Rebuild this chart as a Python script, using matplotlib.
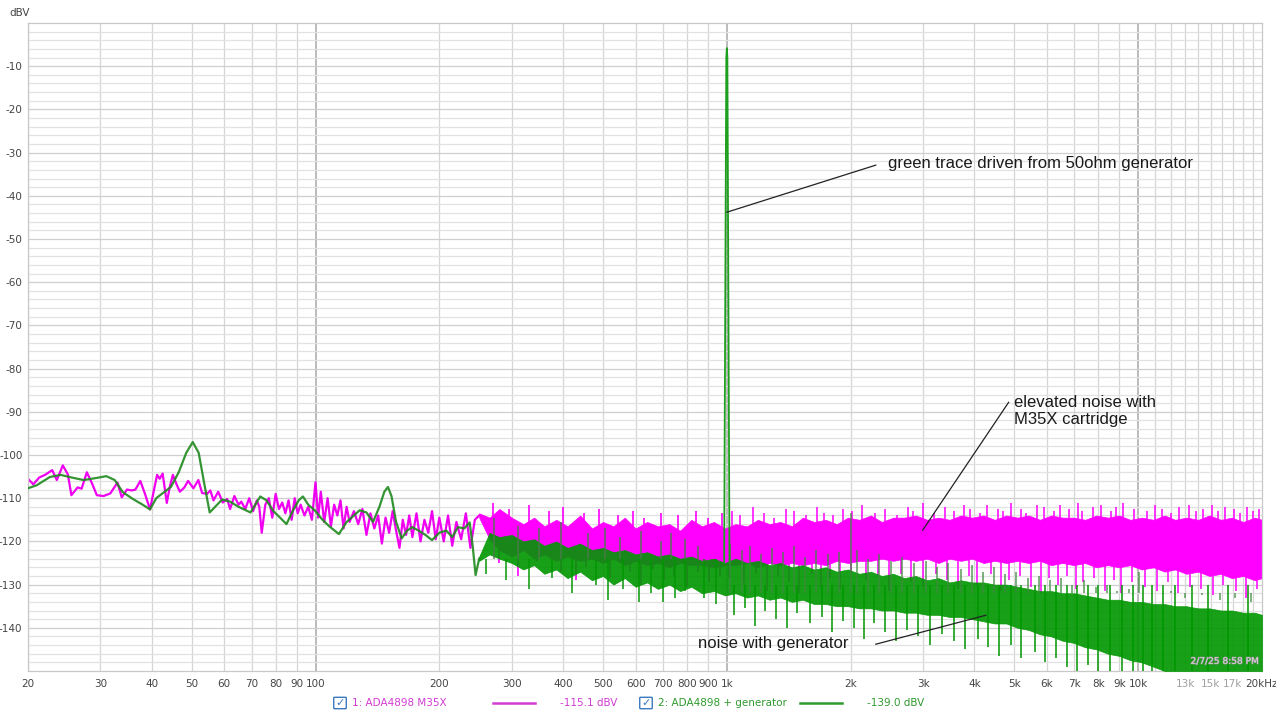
import matplotlib
matplotlib.use("Agg")
import matplotlib.pyplot as plt
import matplotlib.patheffects as pe
from matplotlib.lines import Line2D
from matplotlib.patches import FancyBboxPatch

plt.rcParams["axes.unicode_minus"] = False

# ---- low frequency part of trace 1 (magenta, ADA4898 M35X) ----
mag_lo_f = [20, 20.6, 21.3, 22.0, 22.9, 23.5, 24.3, 25.0, 25.5, 26.4, 27.0, 27.8, 28.6, 29.4,
            30.5, 31.7, 33.0, 33.8, 34.8, 35.7, 36.5, 37.5, 38.5, 39.6, 40.4, 41.2, 41.8, 42.5,
            43.5, 44.2, 45.0, 45.8, 46.8, 48.0, 49.0, 50.5, 51.9, 53.0, 54.5, 55.5, 56.5, 58.0,
            59.5, 61, 62, 63.5, 65, 66, 67.5, 69, 70.5, 72, 73, 74, 75.5, 77, 78.5, 80, 81.5,
            83, 84.5, 86, 87.5, 89, 90.5, 92, 94, 96, 98, 100, 101.5, 103, 105, 107, 109, 111,
            113, 115, 117, 119, 121, 124, 127, 130, 133, 136, 139, 142, 145, 148, 151, 154,
            157, 160, 163, 166, 169, 172, 176, 180, 184, 188, 192, 196, 200, 205, 210, 215,
            220, 226, 232, 238, 244, 250]
mag_lo_db = [-105.5, -106.8, -105.2, -104.6, -103.5, -105.8, -102.4, -104.5, -109.3, -107.5,
             -107.8, -104.0, -106.5, -109.3, -109.5, -108.9, -106.4, -109.8, -108.0, -108.2,
             -108.0, -106.0, -109.0, -112.6, -108.5, -104.6, -105.5, -104.3, -111.1, -107.5,
             -104.6, -106.5, -108.5, -107.5, -106.0, -107.7, -105.8, -108.8, -109.0, -108.2,
             -110.5, -108.5, -111.0, -110.2, -112.5, -109.5, -111.5, -110.8, -112.5, -110.0,
             -113.0, -110.5, -112.0, -118.0, -111.5, -110.0, -114.5, -109.0, -112.5, -111.0,
             -113.5, -110.5, -115.0, -110.0, -113.5, -111.5, -114.0, -112.0, -115.0, -106.3,
             -114.5, -108.5, -115.5, -110.0, -116.5, -111.5, -114.0, -110.5, -117.0, -112.0,
             -115.5, -113.0, -116.0, -112.5, -118.5, -113.5, -117.0, -114.0, -120.5, -114.5,
             -118.0, -113.0, -117.5, -121.5, -115.0, -118.5, -114.0, -119.0, -113.5, -120.0,
             -115.0, -118.0, -113.0, -119.5, -114.5, -120.0, -114.0, -121.0, -115.5, -119.5,
             -113.5, -121.5, -115.0, -114.0]

# ---- low frequency part of trace 2 (green, ADA4898 + generator) ----
grn_lo_f = [20, 21, 22.6, 24, 25.5, 27.3, 29, 31, 32.5, 34, 36, 38, 39.6, 41, 41.9, 44.5,
            46.5, 48.5, 50.3, 52, 53.5, 55.3, 57, 59.3, 62, 65, 69.5, 73.4, 76, 79, 82, 85,
            88, 91, 93.2, 96, 100, 104, 108, 114, 119, 124, 128, 133, 138, 143, 147, 150,
            153, 157, 162, 167, 172, 178, 185, 192, 200, 208, 215, 222, 230, 237, 241, 245, 250]
grn_lo_db = [-107.7, -107.0, -105.1, -104.6, -105.2, -105.8, -105.4, -104.9, -105.8, -108.6,
             -110.2, -111.5, -112.6, -110.0, -109.3, -107.4, -104.0, -99.5, -97.0, -99.5,
             -106.0, -113.3, -112.0, -110.3, -110.8, -112.0, -113.3, -109.6, -110.5, -113.0,
             -114.5, -116.0, -113.0, -110.5, -109.6, -111.5, -113.0, -115.0, -116.5, -118.3,
             -115.5, -114.0, -112.8, -113.3, -115.5, -112.0, -108.5, -107.4, -109.5, -115.5,
             -119.3, -117.5, -116.7, -117.5, -118.5, -119.7, -118.0, -117.5, -119.0, -116.7,
             -117.0, -115.6, -121.0, -127.8, -124.0]

# ---- dense noise region: envelopes (Hz, dBV) ----
band_f = [250, 265, 280, 300, 320, 340, 360, 385, 410, 440, 470, 500, 530, 565, 600, 640,
          680, 725, 770, 820, 870, 930, 990, 1050, 1120, 1190, 1270, 1350, 1440, 1530, 1630,
          1740, 1850, 1970, 2100, 2240, 2380, 2540, 2700, 2880, 3070, 3270, 3480, 3710, 3950,
          4210, 4480, 4780, 5090, 5420, 5770, 6150, 6550, 6980, 7430, 7920, 8440, 8990, 9570,
          10200, 10900, 11600, 12300, 13100, 14000, 14900, 15900, 16900, 18000, 19200, 20000]
mag_top = [-113.5, -114.5, -112.5, -114.5, -116.0, -114.5, -116.5, -115.0, -116.5, -114.0,
           -117.0, -115.5, -116.5, -114.5, -117.0, -115.5, -116.5, -116.0, -117.5, -115.0,
           -116.5, -115.5, -117.0, -116.0, -116.5, -115.0, -116.0, -115.5, -116.5, -114.5,
           -115.5, -115.0, -116.0, -114.5, -115.0, -114.0, -115.5, -114.5, -114.5, -114.0,
           -115.0, -114.5, -115.0, -114.0, -114.5, -114.0, -115.0, -114.0, -114.5, -114.0,
           -115.0, -114.0, -114.5, -114.5, -115.0, -114.0, -114.5, -114.0, -115.0, -114.5,
           -115.0, -114.0, -115.0, -114.5, -115.0, -114.0, -115.0, -114.5, -115.5, -114.5, -115.0]
mag_bot = [-114.5, -119.5, -122.0, -123.5, -122.0, -124.0, -123.0, -124.5, -123.5, -124.5,
           -124.0, -125.0, -124.0, -125.5, -124.5, -125.5, -125.0, -126.0, -125.0, -125.5,
           -125.5, -126.0, -125.5, -125.5, -125.0, -126.0, -125.0, -125.5, -125.0, -125.5,
           -125.0, -125.5, -124.5, -125.0, -124.5, -124.5, -124.0, -124.5, -124.0, -124.5,
           -124.0, -125.0, -124.0, -124.5, -124.0, -125.0, -124.5, -125.0, -124.5, -125.0,
           -124.5, -125.5, -125.0, -125.5, -125.0, -126.0, -125.5, -126.0, -125.5, -126.5,
           -126.0, -127.0, -126.5, -127.5, -127.0, -128.0, -127.5, -128.5, -128.0, -129.0, -128.5]
grn_top = [-123.5, -118.0, -119.0, -118.5, -120.0, -119.5, -121.0, -120.0, -121.5, -120.5,
           -122.0, -121.5, -122.5, -122.0, -123.0, -122.5, -123.5, -123.0, -124.0, -123.5,
           -124.5, -124.0, -125.0, -124.0, -125.0, -124.5, -125.5, -125.0, -126.0, -125.5,
           -126.5, -126.0, -127.0, -126.5, -127.5, -127.0, -128.0, -127.5, -128.5, -128.0,
           -129.0, -128.5, -129.5, -129.0, -129.5, -129.5, -130.0, -130.0, -130.5, -131.0,
           -131.5, -131.5, -132.0, -132.0, -132.5, -133.0, -133.5, -133.5, -134.0, -134.0,
           -134.5, -134.5, -135.0, -135.0, -135.5, -135.5, -136.0, -136.0, -136.5, -136.5, -137.0]
grn_bot = [-124.5, -123.0, -124.0, -125.0, -126.5, -125.5, -127.5, -126.5, -128.5, -127.0,
           -129.0, -128.0, -130.0, -128.5, -130.5, -129.5, -131.0, -130.0, -131.5, -130.5,
           -132.0, -131.5, -132.5, -132.0, -133.0, -132.5, -133.5, -133.0, -134.0, -133.5,
           -134.5, -134.5, -135.0, -135.0, -135.5, -135.5, -136.0, -136.0, -136.5, -136.5,
           -137.0, -137.0, -137.5, -137.5, -138.0, -138.5, -139.0, -139.0, -140.0, -140.5,
           -141.5, -142.0, -143.0, -143.5, -144.5, -145.0, -146.0, -146.5, -147.5, -148.0,
           -149.0, -150.0, -150.0, -150.0, -150.0, -150.0, -150.0, -150.0, -150.0, -150.0, -150.0]

# single bins sticking out of the noise (mid band)
mag_dip_f = [280, 310, 345, 395, 430, 455, 520, 580, 620, 660, 705, 745, 800, 850, 905, 960]
mag_dip_db = [-125, -128, -124.5, -127, -129, -126, -128.5, -127, -130, -126.5, -129, -128,
              -130.5, -127, -129.5, -128]
mag_pk_f = [270, 295, 330, 370, 400, 450, 490, 545, 590, 630, 690, 760, 840, 900, 975]
mag_pk_db = [-111, -112.5, -111.5, -113, -112, -113.5, -112.5, -114, -113, -114.5, -113.5,
             -114, -113, -114.5, -113.5]
grn_dip_f = [260, 290, 330, 375, 420, 480, 515, 560, 610, 655, 700, 750, 790, 880, 940]
grn_dip_db = [-127.5, -129, -131, -128.5, -132, -130, -133.5, -131, -134, -132, -134, -133,
              -131.5, -133, -134.5]
grn_pk_f = [272, 310, 350, 395, 460, 505, 550, 620, 690, 730, 790, 850]
grn_pk_db = [-114.5, -116.5, -117, -115.5, -118, -117, -119, -117.5, -120, -118, -119.5, -121]

# single bins sticking out of the noise (1k - 20k)
mag_up_f = [1030, 1075, 1160, 1230, 1300, 1390, 1460, 1560, 1660, 1720, 1810, 1920, 2020,
            2130, 2290, 2420, 2590, 2760, 2830, 2990, 3180, 3390, 3560, 3780, 3900, 4120, 4300,
            4560, 4700, 4920, 5180, 5350, 5660, 5900, 6250, 6450, 6800, 7150, 7300, 7750, 8100,
            8600, 8850, 9200, 9750, 10500, 11000, 11400, 12000, 12600, 13300, 13800, 14400,
            15100, 15600, 16300, 17100, 17700, 18400, 19000, 19700]
mag_up_db = [-113.0, -114.0, -112.0, -113.5, -114.5, -112.5, -113.0, -114.0, -112.0, -113.5,
             -114.0, -112.5, -113.0, -111.5, -113.5, -112.5, -114.0, -112.0, -113.0, -111.0,
             -113.5, -112.0, -113.0, -111.5, -112.5, -113.5, -111.5, -112.5, -113.0, -111.0,
             -112.5, -113.5, -111.5, -112.0, -113.0, -111.5, -112.5, -111.0, -113.0, -112.0,
             -111.5, -113.0, -112.0, -111.0, -112.5, -113.0, -111.5, -112.5, -113.5, -112.0,
             -111.5, -113.0, -112.5, -111.5, -113.0, -112.0, -112.5, -113.5, -112.0, -113.0,
             -112.5]
mag_dn_f = [1010, 1100, 1180, 1250, 1330, 1420, 1500, 1610, 1690, 1780, 1880, 2000, 2180,
            2330, 2480, 2650, 2800, 3000, 3220, 3420, 3640, 3880, 4050, 4380, 4650, 4850, 5150,
            5500, 5820, 6080, 6380, 6700, 7050, 7350, 7800, 8300, 8750, 9100, 9650, 10400,
            11100, 11800, 12500, 13400, 14200, 15200, 16100, 17300, 18300, 19400]
mag_dn_db = [-128.5, -130.0, -127.5, -131.5, -128.0, -129.5, -132.0, -127.5, -130.5, -128.5,
             -131.0, -127.5, -129.0, -128.0, -131.5, -127.5, -129.5, -130.5, -127.5, -129.0,
             -131.0, -128.0, -130.0, -127.5, -131.5, -129.0, -128.0, -130.5, -132.0, -128.5,
             -130.0, -128.0, -131.0, -129.5, -128.5, -131.5, -129.0, -132.0, -129.5, -130.5,
             -131.5, -129.5, -132.0, -130.5, -131.0, -132.5, -130.0, -131.5, -133.0, -131.0]
grn_up_f = [1020, 1090, 1140, 1210, 1290, 1370, 1460, 1550, 1650, 1760, 1870, 2000, 2070,
            2200, 2350, 2500, 2660, 2850, 3050, 3250, 3450, 3700, 3950, 4200, 4450, 4750, 5050,
            5400, 5750, 6100, 6500, 6900, 7400, 7900, 8400, 8900, 9500, 10050, 11000, 12000,
            13000, 14300, 15800, 17200, 18800]
grn_up_db = [-120.5, -122.0, -121.0, -123.0, -121.5, -122.5, -121.0, -123.5, -122.0, -123.0,
             -122.5, -113.5, -122.0, -124.0, -123.0, -124.5, -123.5, -125.0, -124.5, -126.0,
             -125.0, -126.5, -125.5, -127.0, -126.0, -127.5, -127.0, -128.5, -128.0, -129.0,
             -128.5, -130.0, -129.0, -130.5, -130.0, -131.5, -131.0, -127.0, -132.0, -131.5,
             -133.0, -132.5, -133.5, -133.0, -134.0]
grn_dn_f = [1040, 1110, 1170, 1240, 1320, 1400, 1480, 1590, 1700, 1800, 1920, 2040, 2160,
            2280, 2430, 2580, 2740, 2920, 3120, 3330, 3560, 3800, 4080, 4320, 4600, 4900, 5200,
            5600, 5950, 6300, 6700, 7100, 7550, 8000, 8550, 9150, 9700, 10300, 10800, 11500,
            12300, 13500, 14800, 16500, 18500]
grn_dn_db = [-137.0, -135.5, -139.5, -136.0, -138.0, -140.0, -136.5, -139.0, -137.5, -141.0,
             -138.5, -140.0, -142.5, -139.0, -141.0, -143.0, -140.5, -142.0, -144.0, -141.5,
             -143.0, -145.0, -142.5, -144.5, -146.5, -144.0, -147.0, -145.5, -148.0, -147.0,
             -149.0, -150.0, -148.5, -150.0, -150.0, -150.0, -150.0, -150.0, -150.0, -150.0,
             -150.0, -150.0, -150.0, -150.0, -150.0]

# 1 kHz test tone
tone_f = [985, 997, 1000, 1003, 1015]
tone_db = [-125, -8, -5.8, -8, -125]

xticks = [20, 30, 40, 50, 60, 70, 80, 90, 100, 200, 300, 400, 500, 600, 700, 800, 900,
          1000, 2000, 3000, 4000, 5000, 6000, 7000, 8000, 9000, 10000, 13000, 15000, 17000, 20000]
xlabels = ["20", "30", "40", "50", "60", "70", "80", "90", "100", "200", "300", "400", "500",
           "600", "700", "800", "900", "1k", "2k", "3k", "4k", "5k", "6k", "7k", "8k", "9k",
           "10k", "13k", "15k", "17k", "20kHz"]
yticks = [-10, -20, -30, -40, -50, -60, -70, -80, -90, -100, -110, -120, -130, -140]

MAG = "#f000f0"
MAG_BAND = "#ff00ff"
GRN = "#1f8a1f"
GRN_BAND = "#009600"

fig = plt.figure(figsize=(12.76, 7.13), dpi=100)
ax = fig.add_axes([28 / 1276, 42 / 713, 1234 / 1276, 648 / 713])
ax.set_xscale("log")
ax.set_xlim(20, 20000)
ax.set_ylim(-150, 0)

# grid
vgrid = []
for dec in (10, 100, 1000):
    for m in range(2, 10):
        vgrid.append(m * dec)
vgrid += [10000 + k * 1000 for k in range(1, 10)]
for f in vgrid:
    if f in (100, 1000, 10000):
        continue
    ax.axvline(f, color="#d6d6d6", lw=0.9, zorder=0)
for f in (100, 1000, 10000):
    ax.axvline(f, color="#a8a8a8", lw=1.1, zorder=0)
for d in range(-148, 0, 2):
    ax.axhline(d, color="#cfcfcf" if d % 10 == 0 else "#e2e2e2", lw=0.9, zorder=0)

# trace 1
ax.plot(mag_lo_f, mag_lo_db, color=MAG, lw=1.6, zorder=2)
ax.fill_between(band_f, mag_bot, mag_top, color=MAG_BAND, lw=0.5, edgecolor=MAG_BAND, zorder=2)
ax.vlines(mag_dip_f, mag_dip_db, -120, color=MAG_BAND, lw=1.2, zorder=2)
ax.vlines(mag_pk_f, -120, mag_pk_db, color=MAG_BAND, lw=1.2, zorder=2)
ax.vlines(mag_dn_f, mag_dn_db, -122, color=MAG_BAND, lw=1.1, zorder=2)
ax.vlines(mag_up_f, -118, mag_up_db, color=MAG_BAND, lw=1.1, zorder=2)

# trace 2
ax.plot(grn_lo_f, grn_lo_db, color=GRN, lw=1.6, alpha=0.9, zorder=3)
ax.fill_between(band_f, grn_bot, grn_top, color=GRN_BAND, lw=0.5, edgecolor=GRN_BAND,
                alpha=0.9, zorder=3)
ax.vlines(grn_dip_f, grn_dip_db, -124, color=GRN_BAND, lw=1.2, alpha=0.9, zorder=3)
ax.vlines(grn_pk_f, -124, grn_pk_db, color="#4a7a4a", lw=1.2, alpha=0.85, zorder=3)
ax.vlines(grn_dn_f, grn_dn_db, -130, color=GRN_BAND, lw=1.1, zorder=3)
ax.vlines(grn_up_f, -132, grn_up_db, color="#3d8a3d", lw=1.1, alpha=0.85, zorder=3)
ax.plot(tone_f, tone_db, color="#1ea01e", lw=1.3, zorder=4)

# axes styling
ax.set_xticks(xticks)
ax.set_xticklabels(xlabels)
ax.minorticks_off()
ax.set_yticks(yticks)
ax.tick_params(length=0, labelsize=7.5, colors="#444444", pad=6)
ax.tick_params(axis="y", pad=4)
for lab in ax.get_xticklabels():
    if lab.get_text() in ("13k", "15k", "17k"):
        lab.set_color("#a0a0a0")
for s in ax.spines.values():
    s.set_color("#c8c8c8")
    s.set_linewidth(0.9)
fig.text(9 / 1276, 1 - 13 / 713, "dBV", ha="left", va="center", fontsize=7.5, color="#444444")

# annotations
note = dict(fontsize=12, family="Liberation Sans", color="#1a1a1a", zorder=6)
ax.plot([2302, 1000], [-32.9, -43.8], color="#222222", lw=0.9, zorder=5)
ax.text(2461, -32.5, "green trace driven from 50ohm generator", va="center", **note)
ax.plot([4843, 2993], [-87.8, -117.4], color="#222222", lw=0.9, zorder=5)
ax.text(5000, -86.2, "elevated noise with\nM35X cartridge", va="top", linespacing=1.15, **note)
ax.plot([2302, 4260], [-143.8, -137.1], color="#222222", lw=0.9, zorder=5)
ax.text(853, -143.6, "noise with generator", va="center", **note)

ax.text(0.997, 0.008, "2/7/25 8:58 PM", transform=ax.transAxes, ha="right", va="bottom",
        fontsize=6.5, color="#d8d8d8", zorder=6,
        path_effects=[pe.withStroke(linewidth=0.8, foreground="#909090")])

# legend row
ly = 10 / 713
for bx, label, col, lx, val in ((340, "1: ADA4898 M35X", "#d23cd2", 493, "-115.1 dBV"),
                                 (646, "2: ADA4898 + generator", "#2f9a2f", 800, "-139.0 dBV")):
    box = FancyBboxPatch(((bx - 5) / 1276, (ly * 713 - 5) / 713), 10 / 1276, 10 / 713,
                         boxstyle="round,pad=0.001", transform=fig.transFigure,
                         facecolor="white", edgecolor="#3a78c0", lw=1.0)
    fig.patches.append(box)
    fig.text(bx / 1276, ly, "\u2713", ha="center", va="center", fontsize=8,
             color="#3a78c0", fontweight="bold")
    fig.text((bx + 12) / 1276, ly, label, ha="left", va="center", fontsize=7.5, color=col)
    fig.lines.append(Line2D([lx / 1276, (lx + 42) / 1276], [ly, ly], transform=fig.transFigure,
                            color=col, lw=1.8))
    fig.text((lx + 67) / 1276, ly, val, ha="left", va="center", fontsize=7.5, color=col)

fig.savefig("out.png", dpi=100)
